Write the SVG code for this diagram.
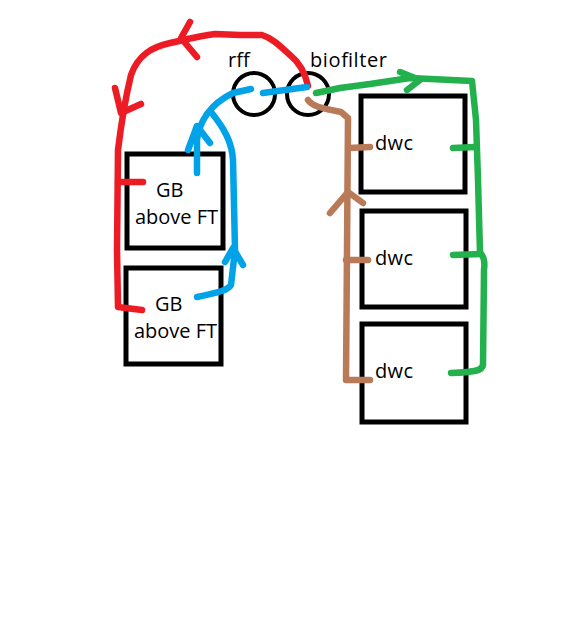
<svg xmlns="http://www.w3.org/2000/svg" width="581" height="635" viewBox="0 0 581 635">
<style>
.box{fill:none;stroke:#000;stroke-width:5}
.circ{fill:none;stroke:#000;stroke-width:4}
.t{font-family:"Open Sans","Noto Sans",sans-serif;font-size:20px;fill:#000}
.ln{fill:none;stroke-width:6.5;stroke-linecap:round;stroke-linejoin:round}
.red{stroke:#ed1c24}
.blue{stroke:#00a2e8}
.green{stroke:#22b14c}
.brown{stroke:#b97a57}
</style>
<rect width="581" height="635" fill="#fff"/>
<g id="rff">
<circle class="circ" cx="254" cy="94" r="21"/>
<text class="t" x="228" y="67">rff</text>
</g>
<g id="biofilter">
<circle class="circ" cx="308" cy="94" r="21"/>
<text class="t" x="310" y="67" textLength="77">biofilter</text>
</g>
<g id="gb1">
<rect class="box" x="127" y="154" width="96" height="94"/>
<text class="t" x="156" y="197">GB</text>
<text class="t" x="135" y="224" textLength="83">above FT</text>
</g>
<g id="gb2">
<rect class="box" x="126" y="268" width="95" height="96"/>
<text class="t" x="155" y="311">GB</text>
<text class="t" x="134" y="338" textLength="83">above FT</text>
</g>
<g id="dwc1">
<rect class="box" x="361" y="96" width="104" height="96"/>
<text class="t" x="375" y="150" textLength="38">dwc</text>
</g>
<g id="dwc2">
<rect class="box" x="362" y="211" width="104" height="96"/>
<text class="t" x="375" y="265" textLength="38">dwc</text>
</g>
<g id="dwc3">
<rect class="box" x="362" y="324" width="104" height="98"/>
<text class="t" x="375" y="378" textLength="38">dwc</text>
</g>
<g id="connectors">
<path class="ln red" d="M308,86 C305,72 300,63 290,55 C280,46 272,38 262,35 L240,35 L215,34 C200,36 188,39 170,43 C152,47 138,55 131,75 C125,100 121,125 118,150 L117,250 L118,307 L142,310"/>
<path class="ln red" d="M118,182 L143,182"/>
<path class="ln red" d="M190,22 L181,38 L197,57"/>
<path class="ln red" d="M115,88 L121,113 L141,104"/>
<path class="ln blue" d="M197,173 L197,140 C199,122 210,104 233,93 L251,89"/>
<path class="ln blue" d="M197,297 C214,293 226,292 231,285 L235,250 L233,160 C232,142 224,128 211,112"/>
<path class="ln blue" d="M263,93 L307,87"/>
<path class="ln blue" d="M188,150 L197,126 L210,143"/>
<path class="ln blue" d="M225,262 L233,248 L243,265"/>
<path class="ln green" d="M316,93 L340,88 L370,84 L410,78 L472,81 L476,120 L478,180 L480,253 C484,256 485,262 484,270 L483,365 C482,370 478,372 451,373"/>
<path class="ln green" d="M453,148 L475,147"/>
<path class="ln green" d="M453,255 L481,254"/>
<path class="ln green" d="M400,72 L420,80 L407,90"/>
<path class="ln brown" d="M308,100 C312,106 320,108 341,112 L348,118 L347,250 L346,380 L370,380"/>
<path class="ln brown" d="M349,148 L370,147"/>
<path class="ln brown" d="M346,260 L368,260"/>
<path class="ln brown" d="M330,213 L348,192 L363,203"/>
</g>
</svg>
